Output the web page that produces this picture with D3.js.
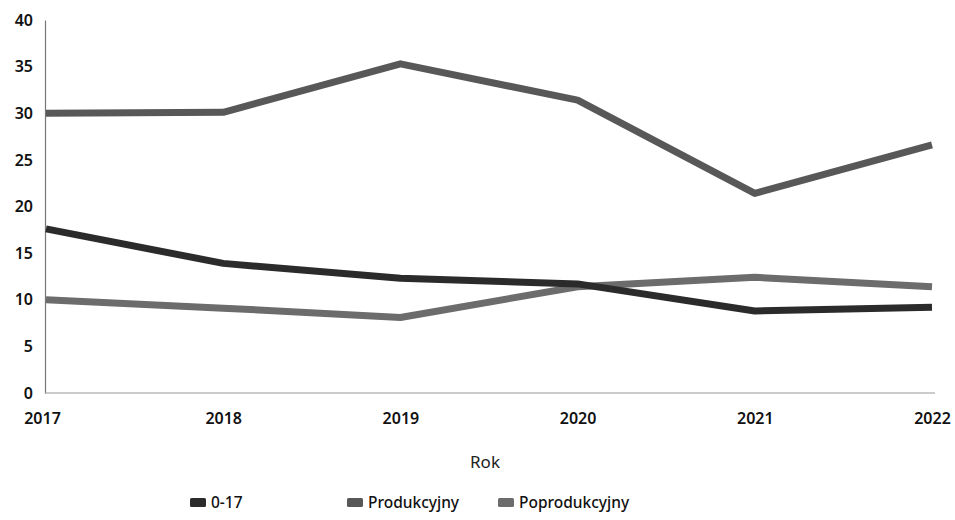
<!DOCTYPE html>
<html><head><meta charset="utf-8">
<script src="https://cdn.jsdelivr.net/npm/d3@7"></script>
<style>body{margin:0;background:#fff}svg{display:block;font-family:"Noto Sans","Open Sans",sans-serif}</style>
</head><body><svg id="c" width="955" height="520"></svg>
<script>
const years = [2017, 2018, 2019, 2020, 2021, 2022];
const seriesNames = ["0-17", "Produkcyjny", "Poprodukcyjny"];
const s017 = [17.6, 13.9, 12.3, 11.7, 8.8, 9.2];
const sProd = [30.0, 30.1, 35.3, 31.4, 21.4, 26.6];
const sPoprod = [10.0, 9.1, 8.1, 11.4, 12.4, 11.4];
const yTicks = [0, 5, 10, 15, 20, 25, 30, 35, 40];
const colors = ["#2b2b2b", "#585858", "#6c6c6c"];
const FONT = '"Noto Sans","Open Sans",sans-serif';

const svg = d3.select("#c");
const x = d3.scalePoint().domain(years).range([46, 932]);
const y = d3.scaleLinear().domain([0, 40]).range([393, 20]);

// axes
const yAx = svg.append("g").attr("transform", "translate(45,0)")
  .call(d3.axisLeft(y).tickValues(yTicks).tickSize(0).tickPadding(12))
  .attr("font-family", FONT);
yAx.select(".domain").attr("stroke", "#777").attr("stroke-width", 1.2);
yAx.selectAll("text").attr("font-size", 16).attr("font-weight", 600).attr("fill", "#111");

const xAx = svg.append("g").attr("transform", "translate(0,393)")
  .call(d3.axisBottom(x).tickSize(0).tickPadding(20).tickFormat(d3.format("d")))
  .attr("font-family", FONT);
xAx.select(".domain").attr("stroke", "#999").attr("stroke-width", 1.2).attr("d", "M45,0H935");
xAx.selectAll("text").attr("font-size", 16).attr("font-weight", 600).attr("fill", "#111")
  .attr("dx", (d, i) => i === 0 ? -4 : 0);

svg.append("text").attr("x", 485).attr("y", 468).attr("text-anchor", "middle")
  .attr("font-size", 17).attr("fill", "#222").text("Rok");

const data = [s017, sProd, sPoprod];
const line = d3.line().x((d, i) => x(years[i])).y(d => y(d));
// draw lighter first so dark on top
[2, 1, 0].forEach(k => {
  svg.append("path").datum(data[k]).attr("d", line)
    .attr("fill", "none").attr("stroke", colors[k]).attr("stroke-width", 7)
    .attr("stroke-linejoin", "round").attr("stroke-linecap", "butt");
});

// legend
const legX = [190, 347, 498];
seriesNames.forEach((n, k) => {
  const g = svg.append("g").attr("transform", `translate(${legX[k]},503)`);
  g.append("rect").attr("x", 0).attr("y", -5).attr("width", 16).attr("height", 9).attr("rx", 1.5).attr("fill", colors[k]);
  g.append("text").attr("x", 21).attr("y", 0).attr("dy", "0.35em")
    .attr("font-size", 15.5).attr("font-weight", 500).attr("fill", "#111").text(n);
});
</script></body></html>
